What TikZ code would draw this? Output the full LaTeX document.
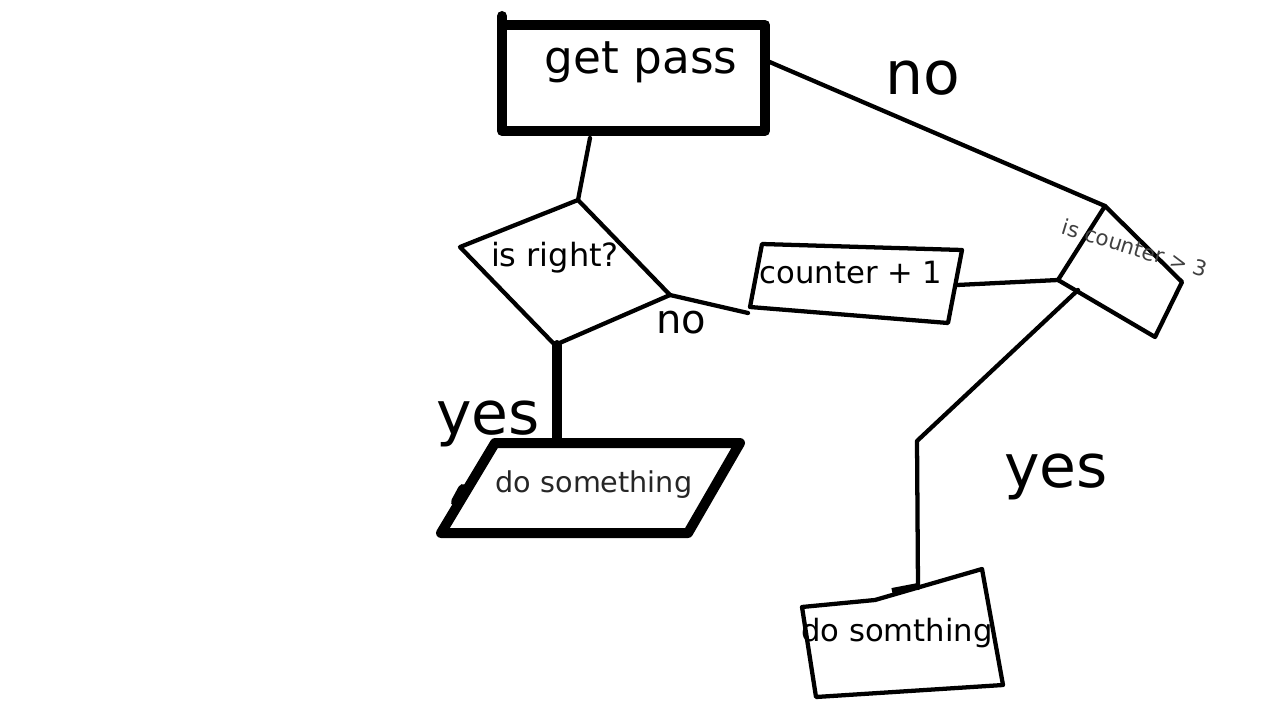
\documentclass[tikz,border=0pt]{standalone}
\usepackage{fontspec}
\setmainfont{DejaVu Sans}
\usetikzlibrary{positioning,calc}
\tikzstyle{thinline} = [line width=3.2pt, line join=round, line cap=round]
\tikzstyle{fatline} = [line width=7.5pt, line join=round, line cap=round]
\tikzstyle{lbl} = [inner sep=0pt, text=black]
\tikzstyle{bigword} = [lbl, font=\fontsize{45}{45}\selectfont]

\begin{document}
\begin{tikzpicture}[x=0.75pt, y=-0.75pt]
    \useasboundingbox[fill=white] (0,0) rectangle (1280,720);
    % get pass box
    \coordinate (gpTL) at (502,25); \coordinate (gpBR) at (765,131);
    \draw[fatline] (gpTL) rectangle (gpBR);
    \draw[fatline] (502,16) -- (gpTL);
    \node[lbl, font=\fontsize{34}{34}\selectfont] (getpass) at (641,62) {get pass};
    % is right? diamond
    \coordinate (rT) at (578,200); \coordinate (rL) at (460,247);
    \coordinate (rB) at (555,345); \coordinate (rR) at (670,295);
    \draw[thinline] (rT) -- (rL) -- (rB) -- (rR) -- cycle;
    \node[lbl, font=\fontsize{24}{24}\selectfont] (isright) at (555,258) {is right?};
    % counter + 1 box
    \coordinate (cTL) at (762,244); \coordinate (cTR) at (962,250);
    \coordinate (cBR) at (948,323); \coordinate (cBL) at (750,307);
    \draw[thinline] (cTL) -- (cTR) -- (cBR) -- (cBL) -- cycle;
    \node[lbl, font=\fontsize{23}{23}\selectfont] (counter) at (851,273) {counter + 1};
    % is counter > 3 box
    \coordinate (kT) at (1105,206); \coordinate (kR) at (1182,282);
    \coordinate (kB) at (1155,337); \coordinate (kL) at (1058,280);
    \draw[thinline] (kT) -- (kR) -- (kB) -- (kL) -- cycle;
    \node[lbl, text=black!75, rotate=-17, font=\fontsize{16}{16}\selectfont] (iscounter) at (1135,248) {is counter > 3};
    % do something parallelogram
    \coordinate (sTL) at (495,443); \coordinate (sTR) at (740,443);
    \coordinate (sBR) at (688,533); \coordinate (sBL) at (441,533);
    \draw[fatline] (sTL) -- (sTR) -- (sBR) -- (sBL) -- cycle;
    \draw[fatline] (463,489) -- (456,502);
    \node[lbl, text=black!85, font=\fontsize{21.5}{21.5}\selectfont] (dosomething) at (594,485) {do something};
    % do somthing box
    \coordinate (dA) at (802,607); \coordinate (dB) at (875,600);
    \coordinate (dC) at (982,569); \coordinate (dD) at (1003,685);
    \coordinate (dE) at (816,697);
    \draw[thinline] (dA) -- (dB) -- (dC) -- (dD) -- (dE) -- cycle;
    \draw[line width=4.5pt] (892,591) -- (918,586);
    \node[lbl, font=\fontsize{23}{23}\selectfont] (dosomthing) at (897,633) {do somthing};
    % connectors
    \coordinate (gpR) at (765,60); \coordinate (gpB) at (590,138);
    \coordinate (cR) at (957,285); \coordinate (cL) at (748,313);
    \coordinate (kOut) at (1078,290); \coordinate (bend) at (917,441);
    \coordinate (dTop) at (918,588);
    \draw[thinline] (gpR) -- (kT);
    \draw[thinline] (gpB) -- (rT);
    \draw[thinline] (rR) -- (cL);
    \draw[thinline] (cR) -- (kL);
    \draw[thinline] (kOut) -- (bend) -- (dTop);
    \draw[fatline] ($(rB)+(2,0)$) -- (557,438);
    % labels
    \node[bigword] (noTop) at (923,78) {no};
    \node[lbl, font=\fontsize{30}{30}\selectfont] (noSmall) at (681,323) {no};
    \node[bigword] (yesLeft) at (488,424) {yes};
    \node[bigword] (yesRight) at (1056,477) {yes};
\end{tikzpicture}
\end{document}
